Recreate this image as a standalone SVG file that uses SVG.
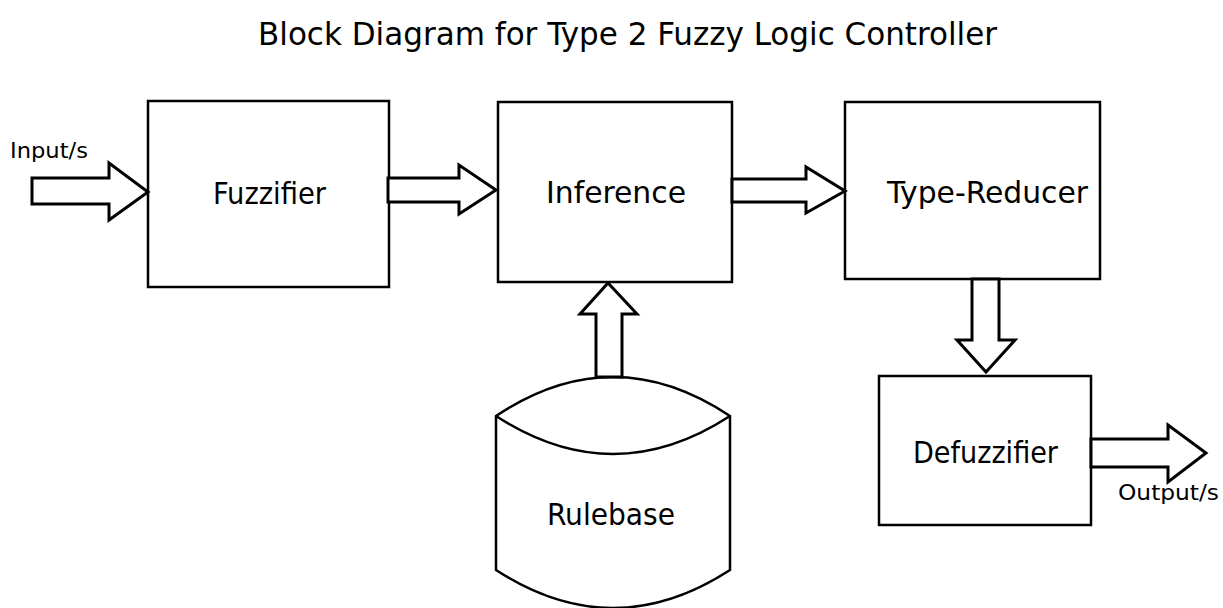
<svg xmlns="http://www.w3.org/2000/svg" width="1223" height="608" viewBox="0 0 1223 608">
<style>
.box{fill:#fff;stroke:#000;stroke-width:2.5}
.arr{fill:#fff;stroke:#000;stroke-width:3;stroke-linejoin:miter}
.lbl{font-family:"DejaVu Sans Condensed","DejaVu Sans",sans-serif;font-size:30px;fill:#000}
.ttl{font-family:"DejaVu Sans Condensed","DejaVu Sans",sans-serif;font-size:32px;fill:#000}
.sm{font-family:"DejaVu Sans Condensed","DejaVu Sans",sans-serif;font-size:21px;fill:#000}
</style>
<rect width="1223" height="608" fill="#fff"/>
<text class="ttl" x="258" y="45" textLength="739" lengthAdjust="spacingAndGlyphs">Block Diagram for Type 2 Fuzzy Logic Controller</text>
<g id="fuzzifier">
<rect class="box" x="148" y="101" width="241" height="186"/>
<text class="lbl" x="213" y="204" textLength="113" lengthAdjust="spacingAndGlyphs">Fuzzifier</text>
</g>
<g id="inference">
<rect class="box" x="498" y="102" width="234" height="180"/>
<text class="lbl" x="546" y="203" textLength="140" lengthAdjust="spacingAndGlyphs">Inference</text>
</g>
<g id="type-reducer">
<rect class="box" x="845" y="102" width="255" height="177"/>
<text class="lbl" x="887" y="203" textLength="201" lengthAdjust="spacingAndGlyphs">Type-Reducer</text>
</g>
<g id="defuzzifier">
<rect class="box" x="879" y="376" width="212" height="149"/>
<text class="lbl" x="913" y="463" textLength="145" lengthAdjust="spacingAndGlyphs">Defuzzifier</text>
</g>
<g id="rulebase">
<path class="box" d="M496,416 Q613,338 730,416 L730,570 Q613,646 496,570 Z"/>
<path class="box" fill="none" d="M496,416 Q613,492 730,416"/>
<text class="lbl" x="547" y="525" textLength="128" lengthAdjust="spacingAndGlyphs">Rulebase</text>
</g>
<g id="connectors">
<path class="arr" d="M32,178 L109,178 L109,163 L148,192 L109,220 L109,204 L32,204 Z"/>
<path class="arr" d="M388,178 L459,178 L459,165 L496,190 L459,214 L459,202 L388,202 Z"/>
<path class="arr" d="M732,179 L806,179 L806,167 L845,191 L806,213 L806,202 L732,202 Z"/>
<path class="arr" d="M596,377 L596,314 L580,314 L608,283 L637,314 L622,314 L622,377 Z"/>
<path class="arr" d="M972,279 L972,340 L957,340 L986,372 L1015,340 L999,340 L999,279 Z"/>
<path class="arr" d="M1091,439 L1168,439 L1168,425 L1206,453 L1168,482 L1168,467 L1091,467 Z"/>
</g>
<text class="sm" x="10" y="158" textLength="78" lengthAdjust="spacingAndGlyphs">Input/s</text>
<text class="sm" x="1118" y="500" textLength="101" lengthAdjust="spacingAndGlyphs">Output/s</text>
</svg>
